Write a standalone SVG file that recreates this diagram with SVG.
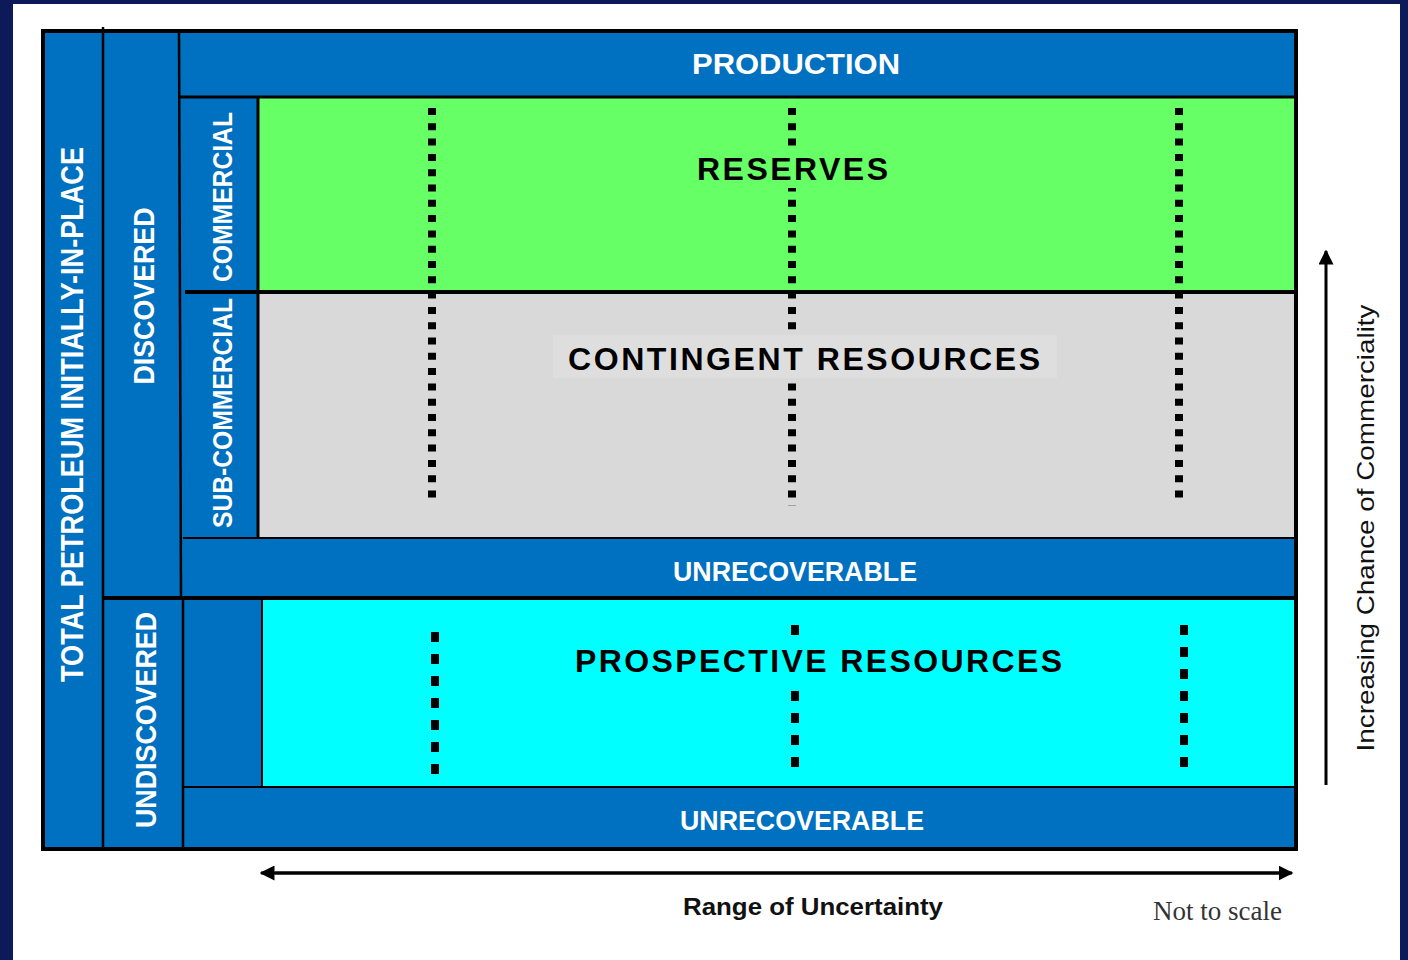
<svg xmlns="http://www.w3.org/2000/svg" width="1408" height="960" viewBox="0 0 1408 960">
<defs>
<style>
.blue{fill:#0070c0}
.ln{stroke:#000;fill:none}
.wt{fill:#fff;font-family:"Liberation Sans",Arial,sans-serif;font-weight:bold}
.bt{fill:#000;font-family:"Liberation Sans",Arial,sans-serif;font-weight:bold}
.dotU{stroke:#000;stroke-width:8;stroke-dasharray:7 8.3;fill:none}
.dotL{stroke:#000;stroke-width:8;stroke-dasharray:10 12;fill:none}
</style>
<marker id="ah" viewBox="0 0 10 10" refX="9" refY="5" markerWidth="5" markerHeight="5" markerUnits="strokeWidth" orient="auto">
<path d="M0,0 L10,5 L0,10 Z" fill="#000"/>
</marker>
</defs>
<rect x="0" y="0" width="1408" height="960" fill="#0d1a5a"/>
<rect x="13" y="4" width="1387" height="956" fill="#fff"/>

<g id="frame">
<rect x="43" y="31" width="1253" height="818" class="blue" stroke="#000" stroke-width="4"/>
</g>

<g id="reserves">
<rect x="258" y="97" width="1036" height="195" fill="#66ff66"/>
</g>
<g id="contingent">
<rect x="258" y="292" width="1036" height="246" fill="#d9d9d9"/>
</g>
<g id="prospective">
<rect x="262" y="598" width="1032" height="189" fill="#00ffff"/>
</g>

<g id="dividers">
<line x1="103" y1="27" x2="103" y2="849" class="ln" stroke-width="2.5"/>
<line x1="179" y1="31" x2="181" y2="598" class="ln" stroke-width="2.5"/>
<line x1="183" y1="598" x2="183" y2="849" class="ln" stroke-width="2.5"/>
<line x1="179" y1="97" x2="1296" y2="97" class="ln" stroke-width="3"/>
<line x1="258" y1="97" x2="258" y2="538" class="ln" stroke-width="3"/>
<line x1="185" y1="292" x2="1296" y2="292" class="ln" stroke-width="4"/>
<line x1="183" y1="538" x2="1296" y2="538" class="ln" stroke-width="2"/>
<line x1="103" y1="598" x2="1296" y2="598" class="ln" stroke-width="4"/>
<line x1="262" y1="598" x2="262" y2="787" class="ln" stroke-width="2"/>
<line x1="183" y1="787" x2="1296" y2="787" class="ln" stroke-width="2"/>
</g>

<g id="dots">
<line x1="432" y1="108" x2="432" y2="502" class="dotU"/>
<line x1="792" y1="108" x2="792" y2="506" class="dotU"/>
<line x1="1179" y1="108" x2="1179" y2="504" class="dotU"/>
<line x1="435" y1="632" x2="435" y2="778" class="dotL"/>
<line x1="795" y1="625" x2="795" y2="772" class="dotL"/>
<line x1="1184" y1="625" x2="1184" y2="772" class="dotL"/>
</g>

<g id="labels-boxes">
<rect x="690" y="150" width="206" height="38" fill="#66ff66"/>
<rect x="553" y="335" width="504" height="43" fill="#dedede"/>
<rect x="565" y="640" width="505" height="46" fill="#00ffff"/>
</g>

<g id="production"><text class="wt" x="796" y="74" font-size="29" text-anchor="middle" textLength="208" lengthAdjust="spacingAndGlyphs">PRODUCTION</text></g>
<g id="reserves-label"><text class="bt" x="792.5" y="180" font-size="32" text-anchor="middle" textLength="191" lengthAdjust="spacing">RESERVES</text></g>
<g id="contingent-label"><text class="bt" x="804" y="370" font-size="32" text-anchor="middle" textLength="472" lengthAdjust="spacing">CONTINGENT RESOURCES</text></g>
<g id="unrec1"><text class="wt" x="795" y="581" font-size="27" text-anchor="middle" textLength="244" lengthAdjust="spacingAndGlyphs">UNRECOVERABLE</text></g>
<g id="prospective-label"><text class="bt" x="818.5" y="672" font-size="32" text-anchor="middle" textLength="487" lengthAdjust="spacing">PROSPECTIVE RESOURCES</text></g>
<g id="unrec2"><text class="wt" x="802" y="830" font-size="27" text-anchor="middle" textLength="244" lengthAdjust="spacingAndGlyphs">UNRECOVERABLE</text></g>

<g id="total"><text class="wt" transform="translate(83,414.5) rotate(-90)" font-size="32" text-anchor="middle" textLength="535" lengthAdjust="spacingAndGlyphs">TOTAL PETROLEUM INITIALLY-IN-PLACE</text></g>
<g id="discovered"><text class="wt" transform="translate(154,296) rotate(-90)" font-size="30" text-anchor="middle" textLength="177" lengthAdjust="spacingAndGlyphs">DISCOVERED</text></g>
<g id="undiscovered"><text class="wt" transform="translate(156,720) rotate(-90)" font-size="30" text-anchor="middle" textLength="216" lengthAdjust="spacingAndGlyphs">UNDISCOVERED</text></g>
<g id="commercial"><text class="wt" transform="translate(232,197) rotate(-90)" font-size="28" text-anchor="middle" textLength="170" lengthAdjust="spacingAndGlyphs">COMMERCIAL</text></g>
<g id="subcommercial"><text class="wt" transform="translate(232,413) rotate(-90)" font-size="28" text-anchor="middle" textLength="230" lengthAdjust="spacingAndGlyphs">SUB-COMMERCIAL</text></g>

<g id="connectors">
<line x1="1326" y1="785" x2="1326" y2="251" stroke="#000" stroke-width="3" marker-end="url(#ah)"/>
<line x1="275" y1="873" x2="1292" y2="873" stroke="#000" stroke-width="3" marker-end="url(#ah)"/>
<line x1="1280" y1="873" x2="261" y2="873" stroke="#000" stroke-width="3" marker-end="url(#ah)"/>
</g>

<g id="axis-labels">
<text transform="translate(1374,528) rotate(-90)" font-family="'Liberation Sans',Arial,sans-serif" font-size="24" fill="#111" text-anchor="middle" textLength="447" lengthAdjust="spacingAndGlyphs">Increasing Chance of  Commerciality</text>
<text x="813" y="915" font-family="'Liberation Sans',Arial,sans-serif" font-weight="bold" font-size="24" fill="#111" text-anchor="middle" textLength="260" lengthAdjust="spacingAndGlyphs">Range of Uncertainty</text>
<text x="1153" y="920" font-family="'Liberation Serif','Times New Roman',serif" font-size="27" fill="#333" textLength="129" lengthAdjust="spacingAndGlyphs">Not to scale</text>
</g>
</svg>
